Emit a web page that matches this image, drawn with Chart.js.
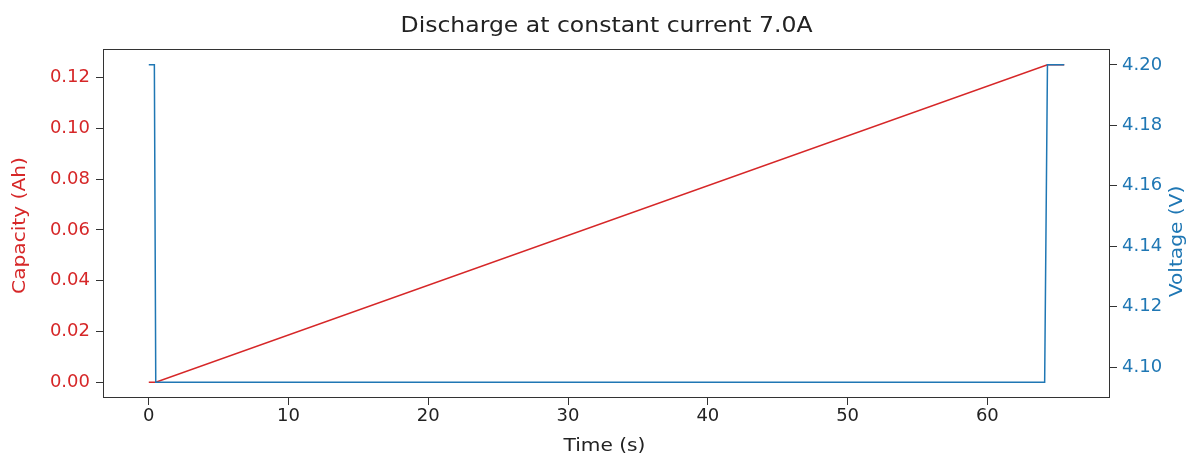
<!DOCTYPE html>
<html>
<head>
<meta charset="utf-8">
<script src="https://cdn.jsdelivr.net/npm/chart.js@4/dist/chart.umd.min.js"></script>
<style>
  html, body { margin: 0; padding: 0; background: #fff; }
</style>
</head>
<body>
<canvas id="chart" width="1200" height="465"></canvas>
<script>
// capacity (Ah) vs time (s)
var capTime = [0, 0.5, 64.3, 65.5];
var capValues = [0, 0, 0.125, 0.125];
// voltage (V) vs time (s)
var voltTime = [0, 0.4, 0.5, 64.1, 64.3, 65.5];
var voltValues = [4.2, 4.2, 4.095, 4.095, 4.2, 4.2];

var xTicks = [0, 10, 20, 30, 40, 50, 60];
var capTicks = [0, 0.02, 0.04, 0.06, 0.08, 0.10, 0.12];
var voltTicks = [4.10, 4.12, 4.14, 4.16, 4.18, 4.20];

var RED = '#d62728';
var BLUE = '#1f77b4';
var FONT = 'DejaVu Sans';

function pts(xs, ys) {
  return xs.map(function (x, i) { return { x: x, y: ys[i] }; });
}
function fixTicks(list) {
  return function (scale) { scale.ticks = list.map(function (v) { return { value: v }; }); };
}

// text drawn a little wider, like the reference
function wideText(ctx, txt, x, y, rot) {
  ctx.save();
  ctx.translate(x, y);
  if (rot) ctx.rotate(rot);
  ctx.scale(1.12, 1);
  ctx.fillText(txt, 0, 0);
  ctx.restore();
}

var textPlugin = {
  id: 'texts',
  afterDraw: function (chart) {
    var ctx = chart.ctx, a = chart.chartArea;
    ctx.save();
    ctx.strokeStyle = '#333';
    ctx.lineWidth = 1;
    ctx.strokeRect(a.left + 0.5, a.top + 0.5, a.right - a.left - 1, a.bottom - a.top - 1);
    ctx.textAlign = 'center';
    ctx.textBaseline = 'middle';
    ctx.fillStyle = '#222';
    ctx.font = '21px "' + FONT + '"';
    wideText(ctx, 'Discharge at constant current 7.0A', (a.left + a.right) / 2, 27);
    ctx.font = '18px "' + FONT + '"';
    wideText(ctx, 'Time (s)', (a.left + a.right) / 2 - 2, 446);
    var midY = (a.top + a.bottom) / 2;
    ctx.fillStyle = RED;
    wideText(ctx, 'Capacity (Ah)', 20, midY + 2, -Math.PI / 2);
    ctx.fillStyle = BLUE;
    wideText(ctx, 'Voltage (V)', 1177, midY + 18, -Math.PI / 2);
    ctx.restore();
  }
};

new Chart(document.getElementById('chart'), {
  type: 'line',
  data: {
    datasets: [
      {
        label: 'Voltage',
        data: pts(voltTime, voltValues),
        yAxisID: 'yV',
        borderColor: BLUE,
        borderWidth: 1.5,
        pointRadius: 0,
        tension: 0,
        order: 1
      },
      {
        label: 'Capacity',
        data: pts(capTime, capValues),
        yAxisID: 'yC',
        borderColor: RED,
        borderWidth: 1.5,
        pointRadius: 0,
        tension: 0,
        order: 2
      }
    ]
  },
  options: {
    responsive: false,
    animation: false,
    layout: { padding: { top: 49, left: 0, right: 0, bottom: 0 } },
    plugins: { legend: { display: false }, tooltip: { enabled: false }, title: { display: false } },
    scales: {
      x: {
        type: 'linear',
        min: -3.275, max: 68.775,
        afterBuildTicks: fixTicks(xTicks),
        afterFit: function (s) { s.height = 67; },
        grid: { drawOnChartArea: false, drawTicks: true, tickLength: 7, color: '#333' },
        border: { display: false },
        ticks: { color: '#222', padding: 1, maxRotation: 0, font: { family: FONT, size: 18 },
          callback: function (v) { return String(v); } }
      },
      yC: {
        type: 'linear',
        position: 'left',
        min: -0.00625, max: 0.13125,
        afterBuildTicks: fixTicks(capTicks),
        afterFit: function (s) { s.width = 103; },
        grid: { drawOnChartArea: false, drawTicks: true, tickLength: 7, color: '#333' },
        border: { display: false },
        ticks: { color: RED, padding: 6, font: { family: FONT, size: 18 },
          callback: function (v) { return v.toFixed(2); } }
      },
      yV: {
        type: 'linear',
        position: 'right',
        min: 4.08975, max: 4.20525,
        afterBuildTicks: fixTicks(voltTicks),
        afterFit: function (s) { s.width = 90; },
        grid: { drawOnChartArea: false, drawTicks: true, tickLength: 7, color: '#333' },
        border: { display: false },
        ticks: { color: BLUE, padding: 5, font: { family: FONT, size: 18 },
          callback: function (v) { return v.toFixed(2); } }
      }
    }
  },
  plugins: [textPlugin]
});
</script>
</body>
</html>
